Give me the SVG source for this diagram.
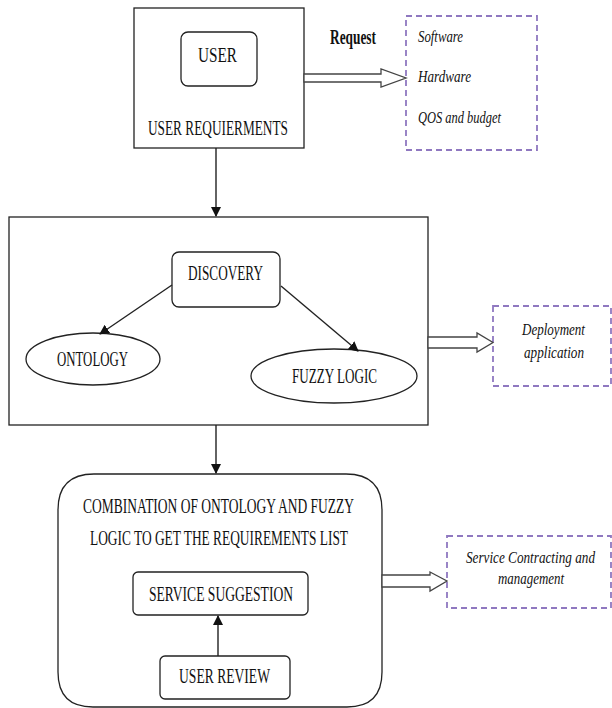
<svg xmlns="http://www.w3.org/2000/svg" width="612" height="708" viewBox="0 0 612 708">
<style>
.box{fill:#fff;stroke:#222;stroke-width:1.3}
.dash{fill:none;stroke:#8f78c0;stroke-width:1.8;stroke-dasharray:6,4}
.t{font-family:"Liberation Serif",serif;fill:#111;font-size:20px}
.i{font-family:"Liberation Serif",serif;font-style:italic;fill:#111;font-size:17px}
.ln{fill:none;stroke:#222;stroke-width:1.4}
.ha{fill:#fff;stroke:#444;stroke-width:1.3}
</style>
<defs>
<marker id="ah" markerWidth="10" markerHeight="10" refX="9" refY="5" orient="auto" markerUnits="userSpaceOnUse">
<path d="M0,0 L10,5 L0,10 Z" fill="#111"/>
</marker>
</defs>
<rect width="612" height="708" fill="#fff"/>

<g id="user-requirements">
<rect class="box" x="134" y="8" width="170" height="140"/>
<text class="t" x="148" y="135" textLength="140" lengthAdjust="spacingAndGlyphs">USER REQUIERMENTS</text>
</g>
<g id="user">
<rect class="box" x="181" y="32" width="76" height="54" rx="7"/>
<text class="t" x="198" y="62" font-size="21" textLength="39" lengthAdjust="spacingAndGlyphs">USER</text>
</g>
<g id="request-label">
<text class="t" x="330" y="44" font-size="17" font-weight="bold" textLength="46" lengthAdjust="spacingAndGlyphs">Request</text>
</g>
<g id="request-box">
<rect class="dash" x="406" y="16" width="131" height="134"/>
<text class="i" x="418" y="42" textLength="45" lengthAdjust="spacingAndGlyphs">Software</text>
<text class="i" x="418" y="82" textLength="53" lengthAdjust="spacingAndGlyphs">Hardware</text>
<text class="i" x="418" y="123" textLength="83" lengthAdjust="spacingAndGlyphs">QOS and budget</text>
</g>

<g id="discovery-container">
<rect class="box" x="9" y="217" width="419" height="208"/>
</g>
<g id="discovery">
<rect class="box" x="172" y="252" width="108" height="55" rx="7"/>
<text class="t" x="188" y="280" textLength="75" lengthAdjust="spacingAndGlyphs">DISCOVERY</text>
</g>
<g id="ontology">
<ellipse class="box" cx="93" cy="359" rx="67" ry="26"/>
<text class="t" x="57" y="366" textLength="71" lengthAdjust="spacingAndGlyphs">ONTOLOGY</text>
</g>
<g id="fuzzy-logic">
<ellipse class="box" cx="334" cy="376" rx="83" ry="27"/>
<text class="t" x="292" y="383" textLength="85" lengthAdjust="spacingAndGlyphs">FUZZY LOGIC</text>
</g>
<g id="deployment">
<rect class="dash" x="493" y="306" width="118" height="80"/>
<text class="i" x="522" y="335" textLength="63" lengthAdjust="spacingAndGlyphs">Deployment</text>
<text class="i" x="524" y="358" textLength="60" lengthAdjust="spacingAndGlyphs">application</text>
</g>

<g id="combination">
<path class="box" d="M94,474 H346 Q382,474 382,510 V672 Q382,707 347,707 H93 Q58,707 58,672 V510 Q58,474 94,474 Z"/>
<text class="t" x="83" y="513" textLength="271" lengthAdjust="spacingAndGlyphs">COMBINATION OF ONTOLOGY  AND FUZZY</text>
<text class="t" x="90" y="545" textLength="258" lengthAdjust="spacingAndGlyphs">LOGIC TO GET THE REQUIREMENTS LIST</text>
</g>
<g id="service-suggestion">
<rect class="box" x="133" y="572" width="175" height="43" rx="5"/>
<text class="t" x="149" y="601" textLength="144" lengthAdjust="spacingAndGlyphs">SERVICE SUGGESTION</text>
</g>
<g id="user-review">
<rect class="box" x="160" y="656" width="130" height="43" rx="5"/>
<text class="t" x="179" y="683" textLength="91" lengthAdjust="spacingAndGlyphs">USER REVIEW</text>
</g>
<g id="service-contracting">
<rect class="dash" x="447" y="536" width="164" height="72"/>
<text class="i" x="466" y="563" textLength="129" lengthAdjust="spacingAndGlyphs">Service Contracting and</text>
<text class="i" x="498" y="584" textLength="66" lengthAdjust="spacingAndGlyphs">management</text>
</g>

<g id="connectors">
<line class="ln" x1="216" y1="148" x2="216" y2="216" marker-end="url(#ah)"/>
<line class="ln" x1="216" y1="425" x2="216" y2="473" marker-end="url(#ah)"/>
<line class="ln" x1="172" y1="285" x2="100" y2="334" marker-end="url(#ah)"/>
<line class="ln" x1="281" y1="286" x2="358" y2="351" marker-end="url(#ah)"/>
<line class="ln" x1="218" y1="656" x2="218" y2="616" marker-end="url(#ah)"/>
<polygon class="ha" points="304,74 381,74 381,69 406,78 381,87 381,82 304,82"/>
<polygon class="ha" points="428,337 477,337 477,333 493,342.5 477,352 477,348 428,348"/>
<polygon class="ha" points="382,575 430,575 430,572 447,581 430,591 430,587 382,587"/>
</g>
</svg>
